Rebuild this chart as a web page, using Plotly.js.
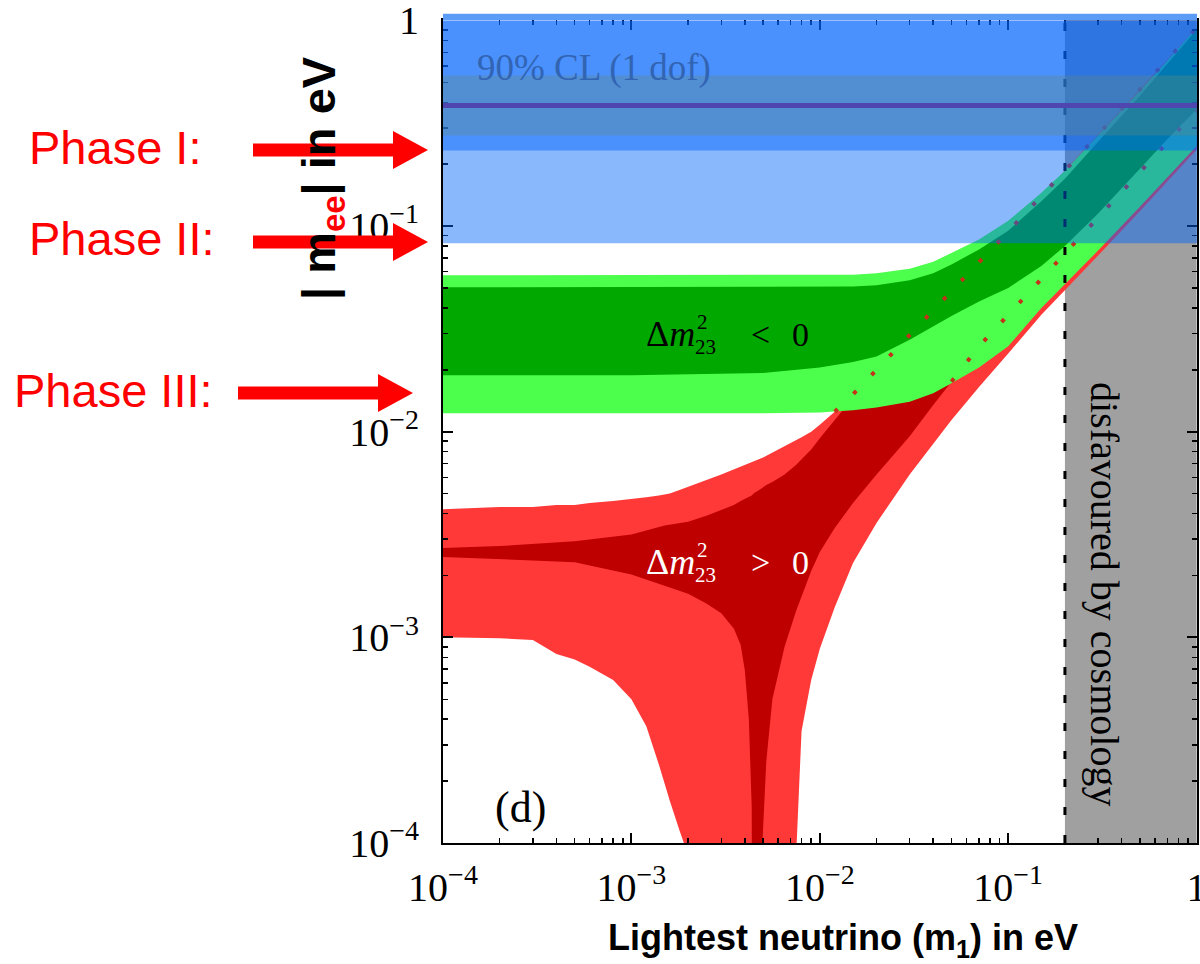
<!DOCTYPE html>
<html><head><meta charset="utf-8">
<script src="https://cdn.plot.ly/plotly-3.0.1.min.js"></script>
<style>html,body{margin:0;padding:0;background:#fff}#chart{width:1200px;height:964px}</style>
</head><body><div id="chart"></div>
<script>
// ---------------- data (eV) ----------------
// Inverted hierarchy (Δm²23 < 0): green bands
const m1Green = [1e-4, 1e-3, 5e-3, 1e-2, 1.5e-2, 2e-2, 3e-2, 4e-2, 5e-2, 7e-2, 0.1, 0.15, 0.2, 0.3, 0.5, 0.7, 1];
const lightGreenUpper = [0.0576,0.0576,0.0576,0.0577,0.0580,0.0590,0.0620,0.0670,0.0740,0.086,0.106,0.145,0.186,0.275,0.455,0.64,0.92];
const lightGreenLower = [0.0123,0.0123,0.0123,0.0124,0.0127,0.0131,0.0140,0.0154,0.0172,0.0205,0.026,0.040,0.052,0.076,0.124,0.172,0.245];
const darkGreenUpper  = [0.0504,0.0504,0.0504,0.0505,0.0508,0.0516,0.0545,0.059,0.065,0.077,0.095,0.132,0.170,0.257,0.43,0.615,0.90];
const darkGreenLower  = [0.0188,0.0188,0.0193,0.0205,0.0218,0.0232,0.028,0.0325,0.0365,0.043,0.050,0.064,0.080,0.115,0.19,0.265,0.37];

// Normal hierarchy (Δm²23 > 0): light red band (1e-6 = below the axis floor, i.e. |m_ee| -> 0)
const m1LightRed = [1e-4,2e-4,3e-4,4e-4,5e-4,6e-4,8e-4,1e-3,1.2e-3,1.4e-3,1.6e-3,1.8e-3,1.9e-3,2e-3,3e-3,5e-3,7e-3,7.4e-3,7.5e-3,8e-3,9e-3,1e-2,1.2e-2,1.5e-2,2e-2,3e-2,5e-2,7e-2,0.1,0.15,0.2,0.3,0.5,0.7,1];
const lightRedUpper = [0.0042,0.0043,0.0043,0.0044,0.0044,0.0045,0.0046,0.0047,0.0048,0.0049,0.0050,0.0052,0.0053,0.0054,0.0062,0.0075,0.0088,0.0090,0.0091,0.0094,0.0100,0.0108,0.0125,0.0152,0.0200,0.0295,0.048,0.067,0.094,0.14,0.186,0.28,0.46,0.645,0.92];
const lightRedLower = [0.00100,0.00099,0.00097,0.00083,0.00078,0.00072,0.00062,0.00050,0.00037,0.00024,0.00016,0.000115,0.0001,1e-6,1e-6,1e-6,1e-6,1e-6,0.00009,0.00035,0.00062,0.00088,0.0014,0.0023,0.0036,0.0062,0.0114,0.0165,0.024,0.037,0.049,0.072,0.118,0.165,0.235];

// dark red band
const m1DarkRed = [1e-4,2e-4,5e-4,1e-3,1.5e-3,2e-3,2.5e-3,3e-3,3.5e-3,3.8e-3,4e-3,4.2e-3,4.35e-3,4.45e-3,4.8e-3,4.9e-3,5.2e-3,5.6e-3,6.5e-3,7.5e-3,9e-3,1e-2,1.2e-2,1.5e-2,2e-2,3e-2,4e-2,5e-2,7e-2,0.1,0.15,0.2,0.3,0.5,0.7,1];
const darkRedUpper = [0.00272,0.00278,0.00293,0.00316,0.0035,0.00365,0.0039,0.00415,0.0044,0.0046,0.0047,0.0048,0.0049,0.0050,0.0052,0.0053,0.0055,0.0057,0.0062,0.0069,0.0082,0.0093,0.0114,0.0146,0.0193,0.0285,0.038,0.0465,0.065,0.091,0.136,0.18,0.27,0.445,0.625,0.89];
const darkRedLower = [0.00246,0.0024,0.00232,0.00202,0.00178,0.00163,0.00146,0.00131,0.0011,0.00092,0.00069,0.0004,0.00015,1e-6,1e-6,0.00008,0.00025,0.0005,0.0009,0.00135,0.0021,0.0026,0.0034,0.0045,0.0062,0.0095,0.0135,0.0175,0.026,0.037,0.055,0.073,0.11,0.183,0.255,0.365];

// horizontal limits (90% CL, 1 dof)
const clLightBlue = [0.0824, 1];
const clBlue = [0.233, 1];
const clBand = [0.276, 0.54];
const clLine = 0.386;
const cosmologyLimit = [0.2, 1];

const xTickVals = [1e-4, 1e-3, 1e-2, 1e-1, 1];
const xTickText = ['10<sup>\u22124</sup>', '10<sup>\u22123</sup>', '10<sup>\u22122</sup>', '10<sup>\u22121</sup>', '1'];
const yTickVals = [1e-4, 1e-3, 1e-2, 1e-1, 1];
const yTickText = ['10<sup>\u22124</sup>', '10<sup>\u22123</sup>', '10<sup>\u22122</sup>', '10<sup>\u22121</sup>', '1'];

// ---------------- helpers ----------------
function band(x, lo, hi, color) {
  return {
    type: 'scatter', mode: 'lines', x: x.concat(x.slice().reverse()),
    y: hi.concat(lo.slice().reverse()), fill: 'toself', fillcolor: color,
    line: {width: 0, color: color}, hoverinfo: 'skip', showlegend: false
  };
}
function dotted(x, y, from) {
  const xs = [], ys = [];
  x.forEach((v, i) => { if (v >= from) { xs.push(v); ys.push(y[i]); } });
  return {type: 'scatter', mode: 'lines', x: xs, y: ys, hoverinfo: 'skip', showlegend: false,
          line: {color: 'rgb(195,50,25)', width: 4, dash: '4px,22px'}};
}
const minorVals = [];
for (let e = -4; e < 0; e++) for (let k = 2; k <= 9; k++) minorVals.push(k * Math.pow(10, e));

// layout geometry (pixels -> paper)
const L = 443, R = 3, T = 20, B = 121, W = 1200 - L - R, H = 964 - T - B;
const px = x => (x - L) / W;
const py = y => (964 - B - y) / H;
function arrowPath(x0, x1, yc) {
  const hx = x1 - 35, s = 6.5, h = 19;
  const pts = [[x0, yc - s], [hx, yc - s], [hx, yc - h], [x1, yc], [hx, yc + h], [hx, yc + s], [x0, yc + s]];
  return 'M ' + pts.map(p => px(p[0]).toFixed(5) + ',' + py(p[1]).toFixed(5)).join(' L ') + ' Z';
}
const serif = '"Liberation Serif", "Times New Roman", serif';
const sans = '"Liberation Sans", Arial, sans-serif';
function note(x, y, text, size, color, opts) {
  return Object.assign({xref: 'paper', yref: 'paper', x: px(x), y: py(y), text: text, showarrow: false,
    xanchor: 'center', yanchor: 'middle', font: {family: serif, size: size, color: color}}, opts || {});
}

const traces = [
  band(m1LightRed, lightRedLower, lightRedUpper, '#ff3838'),
  band(m1DarkRed, darkRedLower, darkRedUpper, '#bf0000'),
  band(m1Green, lightGreenLower, lightGreenUpper, '#4cff4c'),
  band(m1Green, darkGreenLower, darkGreenUpper, '#00a800'),
  dotted(m1LightRed, lightRedUpper, 0.012),
  dotted(m1DarkRed, darkRedLower, 0.045)
];

const axisCommon = {
  type: 'log', showgrid: false, zeroline: false, showline: true, linecolor: '#000', linewidth: 2,
  mirror: 'allticks', ticks: 'inside', ticklen: 10, tickwidth: 2, tickcolor: '#000',
  tickfont: {family: serif, size: 40, color: '#000'}, ticklabeloverflow: 'allow',
  minor: {tickmode: 'array', tickvals: minorVals, ticks: 'inside', ticklen: 5, tickwidth: 1.5, tickcolor: '#000', showgrid: false},
  tickmode: 'array', fixedrange: true
};

function deltaLabel(yc, color) {
  return [
    note(697, yc, '\u0394<i>m</i>', 36, color, {xanchor: 'right'}),
    note(695, yc - 12, '2', 21, color, {xanchor: 'left'}),
    note(693, yc + 13, '23', 21, color, {xanchor: 'left'}),
    note(760, yc, yc < 450 ? '&lt;' : '&gt;', 34, color),
    note(800, yc, '0', 34, color)
  ];
}

const layout = {
  width: 1200, height: 964,
  margin: {l: L, r: R, t: T, b: B, pad: 0},
  paper_bgcolor: '#fff', plot_bgcolor: '#fff', showlegend: false,
  xaxis: Object.assign({}, axisCommon, {range: [-4, 0.002], tickvals: xTickVals, ticktext: xTickText, ticklabelstandoff: 8}),
  yaxis: Object.assign({}, axisCommon, {range: [-4, 0.002], tickvals: yTickVals, ticktext: yTickText, ticklabelstandoff: 14}),
  shapes: [
    {type: 'rect', layer: 'below', xref: 'x', yref: 'paper', x0: cosmologyLimit[0], x1: cosmologyLimit[1], y0: 0, y1: 1,
     fillcolor: '#a0a0a0', line: {width: 0}},
    {type: 'line', layer: 'above', xref: 'x', yref: 'paper', x0: cosmologyLimit[0], x1: cosmologyLimit[0], y0: 0, y1: 1,
     line: {color: '#000', width: 3, dash: '8px,20px'}},
    {type: 'rect', layer: 'above', xref: 'paper', yref: 'y', x0: 0, x1: 1, y0: clLightBlue[0], y1: clLightBlue[1],
     fillcolor: 'rgba(0,100,248,0.46)', line: {width: 0}},
    {type: 'rect', layer: 'above', xref: 'paper', yref: 'y', x0: 0, x1: 1, y0: clBlue[0], y1: clBlue[1],
     fillcolor: 'rgba(0,100,255,0.46)', line: {width: 0}},
    {type: 'rect', layer: 'above', xref: 'paper', yref: 'y', x0: 0, x1: 1, y0: clBand[0], y1: clBand[1],
     fillcolor: 'rgba(100,140,120,0.32)', line: {width: 0}},
    {type: 'line', layer: 'above', xref: 'paper', yref: 'y', x0: 0, x1: 1, y0: clLine, y1: clLine,
     line: {color: 'rgb(80,70,175)', width: 5}},
    {type: 'rect', layer: 'above', xref: 'paper', yref: 'paper', x0: 0, x1: 1, y0: 1, y1: 1.0075,
     fillcolor: '#5a9cf6', line: {width: 0}},
    {type: 'path', xref: 'paper', yref: 'paper', path: arrowPath(253, 428, 150), fillcolor: '#ff0000', line: {width: 0}},
    {type: 'path', xref: 'paper', yref: 'paper', path: arrowPath(253, 428, 242), fillcolor: '#ff0000', line: {width: 0}},
    {type: 'path', xref: 'paper', yref: 'paper', path: arrowPath(238, 413, 393), fillcolor: '#ff0000', line: {width: 0}}
  ],
  annotations: [
    note(594, 68, '90% CL (1 dof)', 37, 'rgb(50,100,180)'),
    ...deltaLabel(334, '#000'),
    ...deltaLabel(562, '#fff'),
    note(520, 807, '(d)', 44, '#000'),
    note(1105, 594, 'disfavoured by cosmology', 40, '#000', {textangle: 90}),
    note(843, 940, '<b>Lightest neutrino (m<sub>1</sub>) in eV</b>', 36, '#000', {font: {family: sans, size: 36, color: '#000'}}),
    note(322, 178, '<b>| m<sub><span style="color:#ff0000">ee</span></sub>| in eV</b>', 47, '#000',
         {textangle: -90, font: {family: sans, size: 47, color: '#000'}}),
    note(27, 147, 'Phase I:', 47, '#ff0000', {xanchor: 'left', font: {family: sans, size: 47, color: '#ff0000'}}),
    note(27, 238, 'Phase II:', 47, '#ff0000', {xanchor: 'left', font: {family: sans, size: 47, color: '#ff0000'}}),
    note(12, 390, 'Phase III:', 47, '#ff0000', {xanchor: 'left', font: {family: sans, size: 47, color: '#ff0000'}})
  ]
};

Plotly.newPlot('chart', traces, layout, {displayModeBar: false, staticPlot: true});
</script>
</body></html>
